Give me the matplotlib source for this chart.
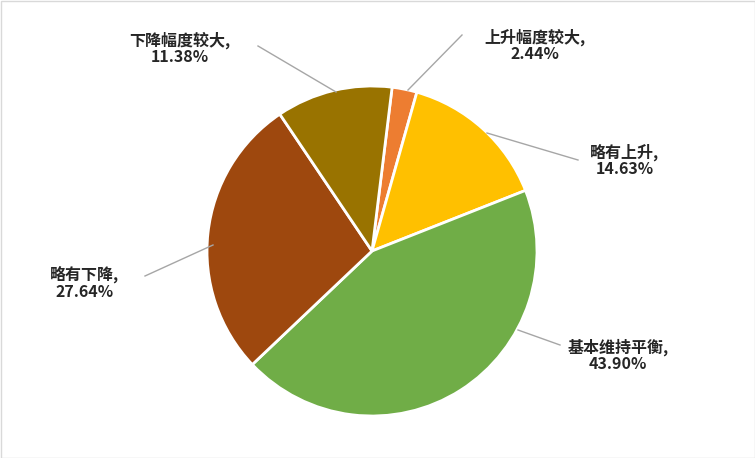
import matplotlib
matplotlib.use("Agg")
import matplotlib.pyplot as plt
from matplotlib.patches import Rectangle

plt.rcParams['font.family'] = ['Noto Sans CJK SC', 'DejaVu Sans']

labels = ['上升幅度较大', '略有上升', '基本维持平衡', '略有下降', '下降幅度较大']
values = [2.44, 14.63, 43.90, 27.64, 11.38]
colors = ['#ED7D31', '#FFC000', '#70AD47', '#9E480E', '#997300']

W, H = 755, 458
CX, CY, R = 372, 251, 165
fig = plt.figure(figsize=(W/100, H/100), dpi=100)
ax = fig.add_axes([0, 0, 1, 1])
ax.pie(values, colors=colors, startangle=83, counterclock=False, radius=1,
       wedgeprops=dict(edgecolor='white', linewidth=2))
ax.set_xlim(-CX/R, (W-CX)/R)
ax.set_ylim(-(H-CY)/R, CY/R)
ax.set_aspect('equal')
ax.axis('off')

def p(px, py):
    return ((px-CX)/R, (CY-py)/R)

# text centre, line start (pie edge), line end
label_pos = [
    ((535, 45), (408, 90), (462, 35)),
    ((625, 160), (487, 133), (578, 160)),
    ((618, 355), (518, 330), (560, 345)),
    ((85, 283), (213, 245), (145, 276)),
    ((180, 48), (336, 92), (258, 46)),
]
for lab, v, (t, s, e) in zip(labels, values, label_pos):
    ax.plot(*zip(p(*s), p(*e)), color='#A6A6A6', lw=1)
    ax.text(*p(*t), f"{lab},\n{v:.2f}%", ha='center', va='center',
            fontsize=11.5, fontweight='bold', color='#262626', linespacing=1.0)

fig.patches.append(Rectangle((0.5/W, 0.5/H), 1-1/W, 1-1/H, transform=fig.transFigure,
                             fill=False, edgecolor='#D9D9D9', lw=1))
fig.savefig('out.png', dpi=100, facecolor='white')
